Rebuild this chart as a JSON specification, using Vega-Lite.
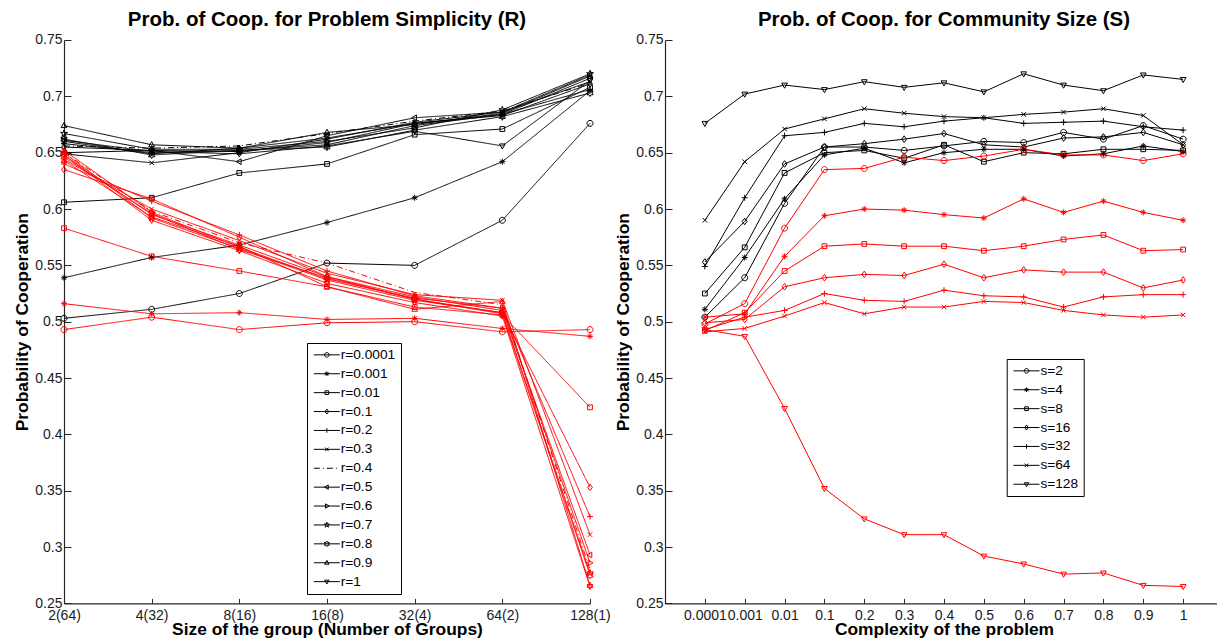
{
"$schema": "https://vega.github.io/schema/vega-lite/v6.json",
"padding": {"left": 13, "top": 10, "right": 0, "bottom": 0},
"background": "white",
"config": {
  "view": {"stroke": null},
  "font": "Liberation Sans",
  "axis": {"grid": false, "domainColor": "#262626", "domainWidth": 1.2, "tickColor": "#262626", "tickWidth": 1, "labelFont": "Liberation Sans", "labelFontSize": 14, "labelColor": "#1a1a1a", "labelOverlap": false, "labelFlush": false, "labelBound": false, "titleFont": "Liberation Sans", "titleFontSize": 17.4, "titleFontWeight": "bold", "titleColor": "black"},
  "legend": {"cornerRadius": 0}
},
"hconcat": [
{
  "width": 526, "height": 563.4,
  "title": {"text": "Prob. of Coop. for Problem Simplicity (R)", "fontSize": 20.5, "fontWeight": "bold", "font": "Liberation Sans", "color": "black", "baseline": "alphabetic", "offset": -13.7, "anchor": "middle"},
  "data": {"values": [
{"grp":"2(64)","r":"r=0.0001","run":"A","p":0.503},{"grp":"4(32)","r":"r=0.0001","run":"A","p":0.511},{"grp":"8(16)","r":"r=0.0001","run":"A","p":0.525},{"grp":"16(8)","r":"r=0.0001","run":"A","p":0.552},{"grp":"32(4)","r":"r=0.0001","run":"A","p":0.550},{"grp":"64(2)","r":"r=0.0001","run":"A","p":0.590},{"grp":"128(1)","r":"r=0.0001","run":"A","p":0.676},
{"grp":"2(64)","r":"r=0.001","run":"A","p":0.539},{"grp":"4(32)","r":"r=0.001","run":"A","p":0.557},{"grp":"8(16)","r":"r=0.001","run":"A","p":0.568},{"grp":"16(8)","r":"r=0.001","run":"A","p":0.588},{"grp":"32(4)","r":"r=0.001","run":"A","p":0.610},{"grp":"64(2)","r":"r=0.001","run":"A","p":0.642},{"grp":"128(1)","r":"r=0.001","run":"A","p":0.705},
{"grp":"2(64)","r":"r=0.01","run":"A","p":0.606},{"grp":"4(32)","r":"r=0.01","run":"A","p":0.610},{"grp":"8(16)","r":"r=0.01","run":"A","p":0.632},{"grp":"16(8)","r":"r=0.01","run":"A","p":0.640},{"grp":"32(4)","r":"r=0.01","run":"A","p":0.666},{"grp":"64(2)","r":"r=0.01","run":"A","p":0.671},{"grp":"128(1)","r":"r=0.01","run":"A","p":0.708},
{"grp":"2(64)","r":"r=0.1","run":"A","p":0.655},{"grp":"4(32)","r":"r=0.1","run":"A","p":0.652},{"grp":"8(16)","r":"r=0.1","run":"A","p":0.651},{"grp":"16(8)","r":"r=0.1","run":"A","p":0.659},{"grp":"32(4)","r":"r=0.1","run":"A","p":0.676},{"grp":"64(2)","r":"r=0.1","run":"A","p":0.683},{"grp":"128(1)","r":"r=0.1","run":"A","p":0.711},
{"grp":"2(64)","r":"r=0.2","run":"A","p":0.658},{"grp":"4(32)","r":"r=0.2","run":"A","p":0.650},{"grp":"8(16)","r":"r=0.2","run":"A","p":0.652},{"grp":"16(8)","r":"r=0.2","run":"A","p":0.657},{"grp":"32(4)","r":"r=0.2","run":"A","p":0.674},{"grp":"64(2)","r":"r=0.2","run":"A","p":0.684},{"grp":"128(1)","r":"r=0.2","run":"A","p":0.706},
{"grp":"2(64)","r":"r=0.3","run":"A","p":0.649},{"grp":"4(32)","r":"r=0.3","run":"A","p":0.641},{"grp":"8(16)","r":"r=0.3","run":"A","p":0.650},{"grp":"16(8)","r":"r=0.3","run":"A","p":0.662},{"grp":"32(4)","r":"r=0.3","run":"A","p":0.677},{"grp":"64(2)","r":"r=0.3","run":"A","p":0.686},{"grp":"128(1)","r":"r=0.3","run":"A","p":0.713},
{"grp":"2(64)","r":"r=0.4","run":"A","p":0.656},{"grp":"4(32)","r":"r=0.4","run":"A","p":0.654},{"grp":"8(16)","r":"r=0.4","run":"A","p":0.656},{"grp":"16(8)","r":"r=0.4","run":"A","p":0.667},{"grp":"32(4)","r":"r=0.4","run":"A","p":0.678},{"grp":"64(2)","r":"r=0.4","run":"A","p":0.687},{"grp":"128(1)","r":"r=0.4","run":"A","p":0.712},
{"grp":"2(64)","r":"r=0.5","run":"A","p":0.650},{"grp":"4(32)","r":"r=0.5","run":"A","p":0.652},{"grp":"8(16)","r":"r=0.5","run":"A","p":0.642},{"grp":"16(8)","r":"r=0.5","run":"A","p":0.665},{"grp":"32(4)","r":"r=0.5","run":"A","p":0.681},{"grp":"64(2)","r":"r=0.5","run":"A","p":0.686},{"grp":"128(1)","r":"r=0.5","run":"A","p":0.719},
{"grp":"2(64)","r":"r=0.6","run":"A","p":0.660},{"grp":"4(32)","r":"r=0.6","run":"A","p":0.649},{"grp":"8(16)","r":"r=0.6","run":"A","p":0.654},{"grp":"16(8)","r":"r=0.6","run":"A","p":0.663},{"grp":"32(4)","r":"r=0.6","run":"A","p":0.676},{"grp":"64(2)","r":"r=0.6","run":"A","p":0.684},{"grp":"128(1)","r":"r=0.6","run":"A","p":0.716},
{"grp":"2(64)","r":"r=0.7","run":"A","p":0.667},{"grp":"4(32)","r":"r=0.7","run":"A","p":0.653},{"grp":"8(16)","r":"r=0.7","run":"A","p":0.653},{"grp":"16(8)","r":"r=0.7","run":"A","p":0.660},{"grp":"32(4)","r":"r=0.7","run":"A","p":0.672},{"grp":"64(2)","r":"r=0.7","run":"A","p":0.688},{"grp":"128(1)","r":"r=0.7","run":"A","p":0.720},
{"grp":"2(64)","r":"r=0.8","run":"A","p":0.662},{"grp":"4(32)","r":"r=0.8","run":"A","p":0.648},{"grp":"8(16)","r":"r=0.8","run":"A","p":0.652},{"grp":"16(8)","r":"r=0.8","run":"A","p":0.655},{"grp":"32(4)","r":"r=0.8","run":"A","p":0.670},{"grp":"64(2)","r":"r=0.8","run":"A","p":0.682},{"grp":"128(1)","r":"r=0.8","run":"A","p":0.703},
{"grp":"2(64)","r":"r=0.9","run":"A","p":0.674},{"grp":"4(32)","r":"r=0.9","run":"A","p":0.657},{"grp":"8(16)","r":"r=0.9","run":"A","p":0.654},{"grp":"16(8)","r":"r=0.9","run":"A","p":0.668},{"grp":"32(4)","r":"r=0.9","run":"A","p":0.675},{"grp":"64(2)","r":"r=0.9","run":"A","p":0.685},{"grp":"128(1)","r":"r=0.9","run":"A","p":0.718},
{"grp":"2(64)","r":"r=1","run":"A","p":0.661},{"grp":"4(32)","r":"r=1","run":"A","p":0.651},{"grp":"8(16)","r":"r=1","run":"A","p":0.649},{"grp":"16(8)","r":"r=1","run":"A","p":0.656},{"grp":"32(4)","r":"r=1","run":"A","p":0.669},{"grp":"64(2)","r":"r=1","run":"A","p":0.656},{"grp":"128(1)","r":"r=1","run":"A","p":0.714},
{"grp":"2(64)","r":"r=0.0001","run":"B","p":0.493},{"grp":"4(32)","r":"r=0.0001","run":"B","p":0.504},{"grp":"8(16)","r":"r=0.0001","run":"B","p":0.493},{"grp":"16(8)","r":"r=0.0001","run":"B","p":0.499},{"grp":"32(4)","r":"r=0.0001","run":"B","p":0.500},{"grp":"64(2)","r":"r=0.0001","run":"B","p":0.491},{"grp":"128(1)","r":"r=0.0001","run":"B","p":0.493},
{"grp":"2(64)","r":"r=0.001","run":"B","p":0.516},{"grp":"4(32)","r":"r=0.001","run":"B","p":0.507},{"grp":"8(16)","r":"r=0.001","run":"B","p":0.508},{"grp":"16(8)","r":"r=0.001","run":"B","p":0.502},{"grp":"32(4)","r":"r=0.001","run":"B","p":0.503},{"grp":"64(2)","r":"r=0.001","run":"B","p":0.494},{"grp":"128(1)","r":"r=0.001","run":"B","p":0.487},
{"grp":"2(64)","r":"r=0.01","run":"B","p":0.583},{"grp":"4(32)","r":"r=0.01","run":"B","p":0.558},{"grp":"8(16)","r":"r=0.01","run":"B","p":0.545},{"grp":"16(8)","r":"r=0.01","run":"B","p":0.531},{"grp":"32(4)","r":"r=0.01","run":"B","p":0.513},{"grp":"64(2)","r":"r=0.01","run":"B","p":0.506},{"grp":"128(1)","r":"r=0.01","run":"B","p":0.424},
{"grp":"2(64)","r":"r=0.1","run":"B","p":0.635},{"grp":"4(32)","r":"r=0.1","run":"B","p":0.609},{"grp":"8(16)","r":"r=0.1","run":"B","p":0.575},{"grp":"16(8)","r":"r=0.1","run":"B","p":0.540},{"grp":"32(4)","r":"r=0.1","run":"B","p":0.520},{"grp":"64(2)","r":"r=0.1","run":"B","p":0.508},{"grp":"128(1)","r":"r=0.1","run":"B","p":0.353},
{"grp":"2(64)","r":"r=0.2","run":"B","p":0.640},{"grp":"4(32)","r":"r=0.2","run":"B","p":0.607},{"grp":"8(16)","r":"r=0.2","run":"B","p":0.577},{"grp":"16(8)","r":"r=0.2","run":"B","p":0.545},{"grp":"32(4)","r":"r=0.2","run":"B","p":0.523},{"grp":"64(2)","r":"r=0.2","run":"B","p":0.512},{"grp":"128(1)","r":"r=0.2","run":"B","p":0.327},
{"grp":"2(64)","r":"r=0.3","run":"B","p":0.644},{"grp":"4(32)","r":"r=0.3","run":"B","p":0.600},{"grp":"8(16)","r":"r=0.3","run":"B","p":0.572},{"grp":"16(8)","r":"r=0.3","run":"B","p":0.543},{"grp":"32(4)","r":"r=0.3","run":"B","p":0.524},{"grp":"64(2)","r":"r=0.3","run":"B","p":0.519},{"grp":"128(1)","r":"r=0.3","run":"B","p":0.311},
{"grp":"2(64)","r":"r=0.4","run":"B","p":0.650},{"grp":"4(32)","r":"r=0.4","run":"B","p":0.598},{"grp":"8(16)","r":"r=0.4","run":"B","p":0.570},{"grp":"16(8)","r":"r=0.4","run":"B","p":0.552},{"grp":"32(4)","r":"r=0.4","run":"B","p":0.526},{"grp":"64(2)","r":"r=0.4","run":"B","p":0.515},{"grp":"128(1)","r":"r=0.4","run":"B","p":0.280},
{"grp":"2(64)","r":"r=0.5","run":"B","p":0.648},{"grp":"4(32)","r":"r=0.5","run":"B","p":0.595},{"grp":"8(16)","r":"r=0.5","run":"B","p":0.568},{"grp":"16(8)","r":"r=0.5","run":"B","p":0.540},{"grp":"32(4)","r":"r=0.5","run":"B","p":0.522},{"grp":"64(2)","r":"r=0.5","run":"B","p":0.510},{"grp":"128(1)","r":"r=0.5","run":"B","p":0.293},
{"grp":"2(64)","r":"r=0.6","run":"B","p":0.652},{"grp":"4(32)","r":"r=0.6","run":"B","p":0.597},{"grp":"8(16)","r":"r=0.6","run":"B","p":0.566},{"grp":"16(8)","r":"r=0.6","run":"B","p":0.538},{"grp":"32(4)","r":"r=0.6","run":"B","p":0.521},{"grp":"64(2)","r":"r=0.6","run":"B","p":0.512},{"grp":"128(1)","r":"r=0.6","run":"B","p":0.286},
{"grp":"2(64)","r":"r=0.7","run":"B","p":0.650},{"grp":"4(32)","r":"r=0.7","run":"B","p":0.592},{"grp":"8(16)","r":"r=0.7","run":"B","p":0.565},{"grp":"16(8)","r":"r=0.7","run":"B","p":0.537},{"grp":"32(4)","r":"r=0.7","run":"B","p":0.519},{"grp":"64(2)","r":"r=0.7","run":"B","p":0.508},{"grp":"128(1)","r":"r=0.7","run":"B","p":0.277},
{"grp":"2(64)","r":"r=0.8","run":"B","p":0.646},{"grp":"4(32)","r":"r=0.8","run":"B","p":0.596},{"grp":"8(16)","r":"r=0.8","run":"B","p":0.564},{"grp":"16(8)","r":"r=0.8","run":"B","p":0.539},{"grp":"32(4)","r":"r=0.8","run":"B","p":0.520},{"grp":"64(2)","r":"r=0.8","run":"B","p":0.507},{"grp":"128(1)","r":"r=0.8","run":"B","p":0.275},
{"grp":"2(64)","r":"r=0.9","run":"B","p":0.643},{"grp":"4(32)","r":"r=0.9","run":"B","p":0.593},{"grp":"8(16)","r":"r=0.9","run":"B","p":0.567},{"grp":"16(8)","r":"r=0.9","run":"B","p":0.531},{"grp":"32(4)","r":"r=0.9","run":"B","p":0.511},{"grp":"64(2)","r":"r=0.9","run":"B","p":0.518},{"grp":"128(1)","r":"r=0.9","run":"B","p":0.266},
{"grp":"2(64)","r":"r=1","run":"B","p":0.648},{"grp":"4(32)","r":"r=1","run":"B","p":0.590},{"grp":"8(16)","r":"r=1","run":"B","p":0.563},{"grp":"16(8)","r":"r=1","run":"B","p":0.534},{"grp":"32(4)","r":"r=1","run":"B","p":0.517},{"grp":"64(2)","r":"r=1","run":"B","p":0.505},{"grp":"128(1)","r":"r=1","run":"B","p":0.265}
  ]},
  "encoding": {
    "x": {"field": "grp", "type": "ordinal", "scale": {"type": "point", "domain": ["2(64)","4(32)","8(16)","16(8)","32(4)","64(2)","128(1)"], "padding": 0},
          "axis": {"title": "Size of the group (Number of Groups)", "labelAngle": 0, "tickSize": -5, "labelPadding": 10, "titleBaseline": "alphabetic", "titleY": 31, "titleX": 263, "titleAnchor": "middle"}},
    "y": {"field": "p", "type": "quantitative", "scale": {"domain": [0.25, 0.75], "nice": false, "zero": false},
          "axis": {"title": "Probability of Cooperation", "values": [0.25,0.3,0.35,0.4,0.45,0.5,0.55,0.6,0.65,0.7,0.75], "format": ".2~f", "tickSize": -7, "labelPadding": 9, "titleBaseline": "alphabetic", "titleX": -36.5, "titleY": 281.7, "titleAnchor": "middle"}}
  },
  "layer": [
    {"mark": {"type": "line", "strokeWidth": 1},
     "encoding": {
       "color": {"field": "run", "type": "nominal", "scale": {"domain": ["A","B"], "range": ["#000000","#ff0000"]}, "legend": null},
       "detail": {"field": "r", "type": "nominal"},
       "strokeDash": {"field": "r", "type": "nominal", "scale": {"domain": ["r=0.0001","r=0.001","r=0.01","r=0.1","r=0.2","r=0.3","r=0.4","r=0.5","r=0.6","r=0.7","r=0.8","r=0.9","r=1"], "range": [[1,0],[1,0],[1,0],[1,0],[1,0],[1,0],[6,3,1,3],[1,0],[1,0],[1,0],[1,0],[1,0],[1,0]]}, "legend": null}
     }},
    {"mark": {"type": "point", "filled": false, "size": 36, "strokeWidth": 1, "opacity": 1},
     "encoding": {
       "color": {"field": "run", "type": "nominal", "scale": {"domain": ["A","B"], "range": ["#000000","#ff0000"]}, "legend": null},
       "shape": {"field": "r", "type": "nominal", "scale": {"domain": ["r=0.0001","r=0.001","r=0.01","r=0.1","r=0.2","r=0.3","r=0.4","r=0.5","r=0.6","r=0.7","r=0.8","r=0.9","r=1"],
         "range": ["M1,0A1,1,0,1,1,-1,0A1,1,0,1,1,1,0Z",
                   "M-1,0L1,0M0,-1L0,1M-0.7,-0.7L0.7,0.7M-0.7,0.7L0.7,-0.7",
                   "M-0.8,-0.8L0.8,-0.8L0.8,0.8L-0.8,0.8Z",
                   "M0,-1.1L0.8,0L0,1.1L-0.8,0Z",
                   "M-1,0L1,0M0,-1L0,1",
                   "M-0.75,-0.75L0.75,0.75M-0.75,0.75L0.75,-0.75",
                   "M0,0",
                   "M-1,0L0.6,-0.95L0.6,0.95Z",
                   "M1,0L-0.6,-0.95L-0.6,0.95Z",
                   "M0,-1.2L0.27,-0.37L1.14,-0.37L0.44,0.14L0.71,0.97L0,0.46L-0.71,0.97L-0.44,0.14L-1.14,-0.37L-0.27,-0.37Z",
                   "M0,-1.2L0.35,-0.6L1.04,-0.6L0.69,0L1.04,0.6L0.35,0.6L0,1.2L-0.35,0.6L-1.04,0.6L-0.69,0L-1.04,-0.6L-0.35,-0.6Z",
                   "M0,-1.05L0.95,0.65L-0.95,0.65Z",
                   "M0,1.05L0.95,-0.65L-0.95,-0.65Z"]}, "legend": null}
     }},
    {"transform": [{"filter": "false"}],
     "mark": {"type": "point", "filled": false, "color": "black", "size": 100, "strokeWidth": 1, "opacity": 1},
     "encoding": {
       "shape": {"field": "r", "type": "nominal", "scale": {"domain": ["r=0.0001","r=0.001","r=0.01","r=0.1","r=0.2","r=0.3","r=0.4","r=0.5","r=0.6","r=0.7","r=0.8","r=0.9","r=1"],
         "range": ["M-1,0L4.2,0M2.06,0A0.46,0.46,0,1,1,1.14,0A0.46,0.46,0,1,1,2.06,0Z",
                   "M-1,0L4.2,0M1.14,0L2.06,0M1.6,-0.46L1.6,0.46M1.28,-0.32L1.92,0.32M1.28,0.32L1.92,-0.32",
                   "M-1,0L4.2,0M1.23,-0.37L1.97,-0.37L1.97,0.37L1.23,0.37Z",
                   "M-1,0L4.2,0M1.6,-0.5L1.97,0L1.6,0.5L1.23,0Z",
                   "M-1,0L4.2,0M1.6,-0.46L1.6,0.46",
                   "M-1,0L4.2,0M1.25,-0.35L1.95,0.35M1.25,0.35L1.95,-0.35",
                   "M-1,0L0.2,0M0.8,0L1,0M1.6,0L2.8,0M3.4,0L3.6,0",
                   "M-1,0L4.2,0M1.14,0L1.88,-0.44L1.88,0.44Z",
                   "M-1,0L4.2,0M2.06,0L1.32,-0.44L1.32,0.44Z",
                   "M-1,0L4.2,0M1.6,-0.55L1.72,-0.17L2.12,-0.17L1.8,0.06L1.93,0.45L1.6,0.21L1.27,0.45L1.4,0.06L1.08,-0.17L1.48,-0.17Z",
                   "M-1,0L4.2,0M1.6,-0.55L1.76,-0.28L2.08,-0.28L1.92,0L2.08,0.28L1.76,0.28L1.6,0.55L1.44,0.28L1.12,0.28L1.28,0L1.12,-0.28L1.44,-0.28Z",
                   "M-1,0L4.2,0M1.6,-0.48L2.04,0.3L1.16,0.3Z",
                   "M-1,0L4.2,0M1.6,0.48L2.04,-0.3L1.16,-0.3Z"]},
         "legend": {"title": null, "orient": "none", "legendX": 243, "legendY": 303, "direction": "vertical", "padding": 5, "strokeColor": "black", "fillColor": "white", "labelFontSize": 13.7, "labelFont": "Liberation Sans", "labelColor": "black", "labelOffset": 15, "rowPadding": 3.9, "symbolStrokeColor": "black", "symbolStrokeWidth": 1, "symbolSize": 100, "symbolFillColor": "transparent", "symbolOpacity": 1}}
     }}
  ],
  "resolve": {"scale": {"shape": "independent"}, "legend": {"shape": "independent"}}
},
{
  "width": 558, "height": 563.4,
  "title": {"text": "Prob. of Coop. for Community Size (S)", "fontSize": 20.5, "fontWeight": "bold", "font": "Liberation Sans", "color": "black", "baseline": "alphabetic", "offset": -13.7, "anchor": "middle"},
  "data": {"values": [
{"cx":"0.0001","s":"s=2","run":"A","p":0.504},{"cx":"0.001","s":"s=2","run":"A","p":0.539},{"cx":"0.01","s":"s=2","run":"A","p":0.605},{"cx":"0.1","s":"s=2","run":"A","p":0.655},{"cx":"0.2","s":"s=2","run":"A","p":0.655},{"cx":"0.3","s":"s=2","run":"A","p":0.652},{"cx":"0.4","s":"s=2","run":"A","p":0.656},{"cx":"0.5","s":"s=2","run":"A","p":0.660},{"cx":"0.6","s":"s=2","run":"A","p":0.659},{"cx":"0.7","s":"s=2","run":"A","p":0.668},{"cx":"0.8","s":"s=2","run":"A","p":0.662},{"cx":"0.9","s":"s=2","run":"A","p":0.674},{"cx":"1","s":"s=2","run":"A","p":0.662},
{"cx":"0.0001","s":"s=4","run":"A","p":0.511},{"cx":"0.001","s":"s=4","run":"A","p":0.557},{"cx":"0.01","s":"s=4","run":"A","p":0.609},{"cx":"0.1","s":"s=4","run":"A","p":0.648},{"cx":"0.2","s":"s=4","run":"A","p":0.654},{"cx":"0.3","s":"s=4","run":"A","p":0.641},{"cx":"0.4","s":"s=4","run":"A","p":0.650},{"cx":"0.5","s":"s=4","run":"A","p":0.653},{"cx":"0.6","s":"s=4","run":"A","p":0.653},{"cx":"0.7","s":"s=4","run":"A","p":0.647},{"cx":"0.8","s":"s=4","run":"A","p":0.649},{"cx":"0.9","s":"s=4","run":"A","p":0.656},{"cx":"1","s":"s=4","run":"A","p":0.651},
{"cx":"0.0001","s":"s=8","run":"A","p":0.525},{"cx":"0.001","s":"s=8","run":"A","p":0.566},{"cx":"0.01","s":"s=8","run":"A","p":0.632},{"cx":"0.1","s":"s=8","run":"A","p":0.650},{"cx":"0.2","s":"s=8","run":"A","p":0.652},{"cx":"0.3","s":"s=8","run":"A","p":0.645},{"cx":"0.4","s":"s=8","run":"A","p":0.657},{"cx":"0.5","s":"s=8","run":"A","p":0.642},{"cx":"0.6","s":"s=8","run":"A","p":0.650},{"cx":"0.7","s":"s=8","run":"A","p":0.649},{"cx":"0.8","s":"s=8","run":"A","p":0.653},{"cx":"0.9","s":"s=8","run":"A","p":0.653},{"cx":"1","s":"s=8","run":"A","p":0.652},
{"cx":"0.0001","s":"s=16","run":"A","p":0.553},{"cx":"0.001","s":"s=16","run":"A","p":0.589},{"cx":"0.01","s":"s=16","run":"A","p":0.640},{"cx":"0.1","s":"s=16","run":"A","p":0.655},{"cx":"0.2","s":"s=16","run":"A","p":0.658},{"cx":"0.3","s":"s=16","run":"A","p":0.662},{"cx":"0.4","s":"s=16","run":"A","p":0.667},{"cx":"0.5","s":"s=16","run":"A","p":0.657},{"cx":"0.6","s":"s=16","run":"A","p":0.655},{"cx":"0.7","s":"s=16","run":"A","p":0.663},{"cx":"0.8","s":"s=16","run":"A","p":0.664},{"cx":"0.9","s":"s=16","run":"A","p":0.668},{"cx":"1","s":"s=16","run":"A","p":0.657},
{"cx":"0.0001","s":"s=32","run":"A","p":0.549},{"cx":"0.001","s":"s=32","run":"A","p":0.610},{"cx":"0.01","s":"s=32","run":"A","p":0.665},{"cx":"0.1","s":"s=32","run":"A","p":0.668},{"cx":"0.2","s":"s=32","run":"A","p":0.676},{"cx":"0.3","s":"s=32","run":"A","p":0.673},{"cx":"0.4","s":"s=32","run":"A","p":0.678},{"cx":"0.5","s":"s=32","run":"A","p":0.681},{"cx":"0.6","s":"s=32","run":"A","p":0.676},{"cx":"0.7","s":"s=32","run":"A","p":0.677},{"cx":"0.8","s":"s=32","run":"A","p":0.678},{"cx":"0.9","s":"s=32","run":"A","p":0.673},{"cx":"1","s":"s=32","run":"A","p":0.670},
{"cx":"0.0001","s":"s=64","run":"A","p":0.590},{"cx":"0.001","s":"s=64","run":"A","p":0.642},{"cx":"0.01","s":"s=64","run":"A","p":0.671},{"cx":"0.1","s":"s=64","run":"A","p":0.680},{"cx":"0.2","s":"s=64","run":"A","p":0.689},{"cx":"0.3","s":"s=64","run":"A","p":0.685},{"cx":"0.4","s":"s=64","run":"A","p":0.682},{"cx":"0.5","s":"s=64","run":"A","p":0.681},{"cx":"0.6","s":"s=64","run":"A","p":0.684},{"cx":"0.7","s":"s=64","run":"A","p":0.686},{"cx":"0.8","s":"s=64","run":"A","p":0.689},{"cx":"0.9","s":"s=64","run":"A","p":0.683},{"cx":"1","s":"s=64","run":"A","p":0.657},
{"cx":"0.0001","s":"s=128","run":"A","p":0.676},{"cx":"0.001","s":"s=128","run":"A","p":0.702},{"cx":"0.01","s":"s=128","run":"A","p":0.710},{"cx":"0.1","s":"s=128","run":"A","p":0.706},{"cx":"0.2","s":"s=128","run":"A","p":0.713},{"cx":"0.3","s":"s=128","run":"A","p":0.708},{"cx":"0.4","s":"s=128","run":"A","p":0.712},{"cx":"0.5","s":"s=128","run":"A","p":0.704},{"cx":"0.6","s":"s=128","run":"A","p":0.720},{"cx":"0.7","s":"s=128","run":"A","p":0.710},{"cx":"0.8","s":"s=128","run":"A","p":0.705},{"cx":"0.9","s":"s=128","run":"A","p":0.719},{"cx":"1","s":"s=128","run":"A","p":0.715},
{"cx":"0.0001","s":"s=2","run":"B","p":0.498},{"cx":"0.001","s":"s=2","run":"B","p":0.516},{"cx":"0.01","s":"s=2","run":"B","p":0.583},{"cx":"0.1","s":"s=2","run":"B","p":0.635},{"cx":"0.2","s":"s=2","run":"B","p":0.636},{"cx":"0.3","s":"s=2","run":"B","p":0.646},{"cx":"0.4","s":"s=2","run":"B","p":0.643},{"cx":"0.5","s":"s=2","run":"B","p":0.647},{"cx":"0.6","s":"s=2","run":"B","p":0.653},{"cx":"0.7","s":"s=2","run":"B","p":0.648},{"cx":"0.8","s":"s=2","run":"B","p":0.648},{"cx":"0.9","s":"s=2","run":"B","p":0.643},{"cx":"1","s":"s=2","run":"B","p":0.649},
{"cx":"0.0001","s":"s=4","run":"B","p":0.504},{"cx":"0.001","s":"s=4","run":"B","p":0.507},{"cx":"0.01","s":"s=4","run":"B","p":0.558},{"cx":"0.1","s":"s=4","run":"B","p":0.594},{"cx":"0.2","s":"s=4","run":"B","p":0.600},{"cx":"0.3","s":"s=4","run":"B","p":0.599},{"cx":"0.4","s":"s=4","run":"B","p":0.595},{"cx":"0.5","s":"s=4","run":"B","p":0.592},{"cx":"0.6","s":"s=4","run":"B","p":0.609},{"cx":"0.7","s":"s=4","run":"B","p":0.597},{"cx":"0.8","s":"s=4","run":"B","p":0.607},{"cx":"0.9","s":"s=4","run":"B","p":0.597},{"cx":"1","s":"s=4","run":"B","p":0.590},
{"cx":"0.0001","s":"s=8","run":"B","p":0.492},{"cx":"0.001","s":"s=8","run":"B","p":0.508},{"cx":"0.01","s":"s=8","run":"B","p":0.545},{"cx":"0.1","s":"s=8","run":"B","p":0.567},{"cx":"0.2","s":"s=8","run":"B","p":0.569},{"cx":"0.3","s":"s=8","run":"B","p":0.567},{"cx":"0.4","s":"s=8","run":"B","p":0.567},{"cx":"0.5","s":"s=8","run":"B","p":0.563},{"cx":"0.6","s":"s=8","run":"B","p":0.567},{"cx":"0.7","s":"s=8","run":"B","p":0.573},{"cx":"0.8","s":"s=8","run":"B","p":0.577},{"cx":"0.9","s":"s=8","run":"B","p":0.563},{"cx":"1","s":"s=8","run":"B","p":0.564},
{"cx":"0.0001","s":"s=16","run":"B","p":0.499},{"cx":"0.001","s":"s=16","run":"B","p":0.502},{"cx":"0.01","s":"s=16","run":"B","p":0.531},{"cx":"0.1","s":"s=16","run":"B","p":0.539},{"cx":"0.2","s":"s=16","run":"B","p":0.542},{"cx":"0.3","s":"s=16","run":"B","p":0.541},{"cx":"0.4","s":"s=16","run":"B","p":0.551},{"cx":"0.5","s":"s=16","run":"B","p":0.539},{"cx":"0.6","s":"s=16","run":"B","p":0.546},{"cx":"0.7","s":"s=16","run":"B","p":0.544},{"cx":"0.8","s":"s=16","run":"B","p":0.544},{"cx":"0.9","s":"s=16","run":"B","p":0.530},{"cx":"1","s":"s=16","run":"B","p":0.537},
{"cx":"0.0001","s":"s=32","run":"B","p":0.493},{"cx":"0.001","s":"s=32","run":"B","p":0.504},{"cx":"0.01","s":"s=32","run":"B","p":0.510},{"cx":"0.1","s":"s=32","run":"B","p":0.525},{"cx":"0.2","s":"s=32","run":"B","p":0.519},{"cx":"0.3","s":"s=32","run":"B","p":0.518},{"cx":"0.4","s":"s=32","run":"B","p":0.528},{"cx":"0.5","s":"s=32","run":"B","p":0.523},{"cx":"0.6","s":"s=32","run":"B","p":0.522},{"cx":"0.7","s":"s=32","run":"B","p":0.513},{"cx":"0.8","s":"s=32","run":"B","p":0.522},{"cx":"0.9","s":"s=32","run":"B","p":0.524},{"cx":"1","s":"s=32","run":"B","p":0.524},
{"cx":"0.0001","s":"s=64","run":"B","p":0.491},{"cx":"0.001","s":"s=64","run":"B","p":0.494},{"cx":"0.01","s":"s=64","run":"B","p":0.505},{"cx":"0.1","s":"s=64","run":"B","p":0.517},{"cx":"0.2","s":"s=64","run":"B","p":0.507},{"cx":"0.3","s":"s=64","run":"B","p":0.513},{"cx":"0.4","s":"s=64","run":"B","p":0.513},{"cx":"0.5","s":"s=64","run":"B","p":0.518},{"cx":"0.6","s":"s=64","run":"B","p":0.517},{"cx":"0.7","s":"s=64","run":"B","p":0.510},{"cx":"0.8","s":"s=64","run":"B","p":0.506},{"cx":"0.9","s":"s=64","run":"B","p":0.504},{"cx":"1","s":"s=64","run":"B","p":0.506},
{"cx":"0.0001","s":"s=128","run":"B","p":0.493},{"cx":"0.001","s":"s=128","run":"B","p":0.487},{"cx":"0.01","s":"s=128","run":"B","p":0.423},{"cx":"0.1","s":"s=128","run":"B","p":0.352},{"cx":"0.2","s":"s=128","run":"B","p":0.325},{"cx":"0.3","s":"s=128","run":"B","p":0.311},{"cx":"0.4","s":"s=128","run":"B","p":0.311},{"cx":"0.5","s":"s=128","run":"B","p":0.292},{"cx":"0.6","s":"s=128","run":"B","p":0.285},{"cx":"0.7","s":"s=128","run":"B","p":0.276},{"cx":"0.8","s":"s=128","run":"B","p":0.277},{"cx":"0.9","s":"s=128","run":"B","p":0.266},{"cx":"1","s":"s=128","run":"B","p":0.265}
  ]},
  "encoding": {
    "x": {"field": "cx", "type": "ordinal", "scale": {"type": "point", "domain": ["0.0001","0.001","0.01","0.1","0.2","0.3","0.4","0.5","0.6","0.7","0.8","0.9","1"], "padding": 1},
          "axis": {"title": "Complexity of the problem", "labelAngle": 0, "tickSize": -5, "labelPadding": 10, "titleBaseline": "alphabetic", "titleY": 31, "titleX": 279, "titleAnchor": "middle"}},
    "y": {"field": "p", "type": "quantitative", "scale": {"domain": [0.25, 0.75], "nice": false, "zero": false},
          "axis": {"title": "Probability of Cooperation", "values": [0.25,0.3,0.35,0.4,0.45,0.5,0.55,0.6,0.65,0.7,0.75], "format": ".2~f", "tickSize": -7, "labelPadding": 9, "titleBaseline": "alphabetic", "titleX": -36.5, "titleY": 281.7, "titleAnchor": "middle"}}
  },
  "layer": [
    {"mark": {"type": "line", "strokeWidth": 1},
     "encoding": {
       "color": {"field": "run", "type": "nominal", "scale": {"domain": ["A","B"], "range": ["#000000","#ff0000"]}, "legend": null},
       "detail": {"field": "s", "type": "nominal"}
     }},
    {"mark": {"type": "point", "filled": false, "size": 36, "strokeWidth": 1, "opacity": 1},
     "encoding": {
       "color": {"field": "run", "type": "nominal", "scale": {"domain": ["A","B"], "range": ["#000000","#ff0000"]}, "legend": null},
       "shape": {"field": "s", "type": "nominal", "scale": {"domain": ["s=2","s=4","s=8","s=16","s=32","s=64","s=128"],
         "range": ["M1,0A1,1,0,1,1,-1,0A1,1,0,1,1,1,0Z",
                   "M-1,0L1,0M0,-1L0,1M-0.7,-0.7L0.7,0.7M-0.7,0.7L0.7,-0.7",
                   "M-0.8,-0.8L0.8,-0.8L0.8,0.8L-0.8,0.8Z",
                   "M0,-1.1L0.8,0L0,1.1L-0.8,0Z",
                   "M-1,0L1,0M0,-1L0,1",
                   "M-0.75,-0.75L0.75,0.75M-0.75,0.75L0.75,-0.75",
                   "M0,1.05L0.95,-0.65L-0.95,-0.65Z"]}, "legend": null}
     }},
    {"transform": [{"filter": "false"}],
     "mark": {"type": "point", "filled": false, "color": "black", "size": 100, "strokeWidth": 1, "opacity": 1},
     "encoding": {
       "shape": {"field": "s", "type": "nominal", "scale": {"domain": ["s=2","s=4","s=8","s=16","s=32","s=64","s=128"],
         "range": ["M-1,0L4.2,0M2.06,0A0.46,0.46,0,1,1,1.14,0A0.46,0.46,0,1,1,2.06,0Z",
                   "M-1,0L4.2,0M1.14,0L2.06,0M1.6,-0.46L1.6,0.46M1.28,-0.32L1.92,0.32M1.28,0.32L1.92,-0.32",
                   "M-1,0L4.2,0M1.23,-0.37L1.97,-0.37L1.97,0.37L1.23,0.37Z",
                   "M-1,0L4.2,0M1.6,-0.5L1.97,0L1.6,0.5L1.23,0Z",
                   "M-1,0L4.2,0M1.6,-0.46L1.6,0.46",
                   "M-1,0L4.2,0M1.25,-0.35L1.95,0.35M1.25,0.35L1.95,-0.35",
                   "M-1,0L4.2,0M1.6,0.48L2.04,-0.3L1.16,-0.3Z"]},
         "legend": {"title": null, "orient": "none", "legendX": 341.7, "legendY": 319, "direction": "vertical", "padding": 5, "strokeColor": "black", "fillColor": "white", "labelFontSize": 13.7, "labelFont": "Liberation Sans", "labelColor": "black", "labelOffset": 15, "rowPadding": 3.9, "symbolStrokeColor": "black", "symbolStrokeWidth": 1, "symbolSize": 100, "symbolFillColor": "transparent", "symbolOpacity": 1}}
     }}
  ],
  "resolve": {"scale": {"shape": "independent"}, "legend": {"shape": "independent"}}
}
],
"spacing": 75,
"bounds": "flush"
}
